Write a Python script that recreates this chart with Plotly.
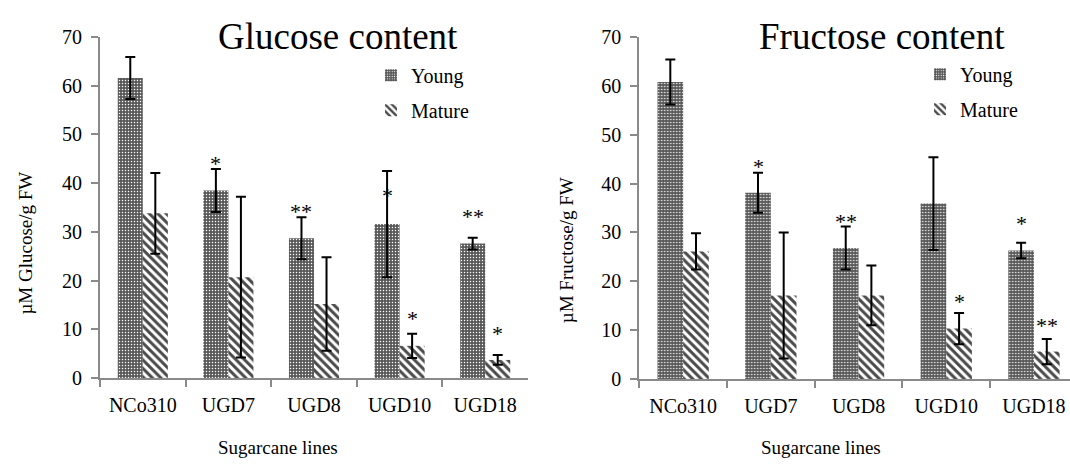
import plotly.graph_objects as go

# Sugarcane lines and measured sugar contents (µM / g FW), mean and SD
lines = ["NCo310", "UGD7", "UGD8", "UGD10", "UGD18"]

glucose_young = [61.6, 38.5, 28.7, 31.6, 27.6]
glucose_young_err = [4.3, 4.4, 4.3, 10.9, 1.2]
glucose_mature = [33.8, 20.7, 15.2, 6.6, 3.7]
glucose_mature_err = [8.3, 16.5, 9.6, 2.5, 1.0]

fructose_young = [60.8, 38.1, 26.8, 35.9, 26.3]
fructose_young_err = [4.6, 4.1, 4.4, 9.5, 1.6]
fructose_mature = [26.1, 17.1, 17.1, 10.3, 5.6]
fructose_mature_err = [3.7, 12.9, 6.1, 3.2, 2.6]

# significance marks (empty string = not significant)
glucose_young_sig = ["", "*", "**", "*", "**"]
glucose_mature_sig = ["", "", "", "*", "*"]
fructose_young_sig = ["", "*", "**", "", "*"]
fructose_mature_sig = ["", "", "", "*", "**"]

y_ticks = [0, 10, 20, 30, 40, 50, 60, 70]

W, H = 1070, 470
FONT = "Liberation Serif"
AXIS_GREY = "#8a8a8a"
BARGAP = 0.415

young_pattern = dict(shape=".", fgcolor="#ffffff", bgcolor="#585858",
                     size=3, solidity=0.2, fillmode="replace")
mature_pattern = dict(shape="\\", fgcolor="#4a4a4a", bgcolor="#ffffff",
                      size=6, solidity=0.5, fillmode="replace")


def px_x(v):
    return v / W


def px_y(v):
    return 1 - v / H


fig = go.Figure()

panels = [
    dict(xa="x", ya="y", young=glucose_young, yerr=glucose_young_err,
         mature=glucose_mature, merr=glucose_mature_err,
         ysig=glucose_young_sig, msig=glucose_mature_sig,
         legend="legend", ylift=[0, 1.6, 1.6, -4.6, 4.7], mlift=[0, 0, 0, 3.5, 4.9]),
    dict(xa="x2", ya="y2", young=fructose_young, yerr=fructose_young_err,
         mature=fructose_mature, merr=fructose_mature_err,
         ysig=fructose_young_sig, msig=fructose_mature_sig,
         legend="legend2", ylift=[0, 1.7, 1.4, 0, 4.4], mlift=[0, 0, 0, 2.8, 3.1]),
]

for p in panels:
    fig.add_trace(go.Bar(
        x=lines, y=p["young"], name="Young", xaxis=p["xa"], yaxis=p["ya"],
        marker=dict(color="#585858", pattern=young_pattern, line=dict(width=0)),
        error_y=dict(type="data", array=p["yerr"], visible=True,
                     color="#000000", thickness=2, width=5),
        legend=p["legend"], legendgroup=p["legend"] + "y",
    ))
    fig.add_trace(go.Bar(
        x=lines, y=p["mature"], name="Mature", xaxis=p["xa"], yaxis=p["ya"],
        marker=dict(color="#ffffff", pattern=mature_pattern, line=dict(width=0)),
        error_y=dict(type="data", array=p["merr"], visible=True,
                     color="#000000", thickness=2, width=5),
        legend=p["legend"], legendgroup=p["legend"] + "m",
    ))

annotations = []
offset = (1 - BARGAP) / 4  # centre of each bar relative to its category
for p in panels:
    for i, name in enumerate(lines):
        if p["ysig"][i]:
            annotations.append(dict(
                x=i - offset, y=p["young"][i] + p["yerr"][i] + p["ylift"][i],
                xref=p["xa"], yref=p["ya"], text=p["ysig"][i], showarrow=False,
                font=dict(family=FONT, size=22, color="#000"),
                yanchor="middle", yshift=-2))
        if p["msig"][i]:
            annotations.append(dict(
                x=i + offset, y=p["mature"][i] + p["merr"][i] + p["mlift"][i],
                xref=p["xa"], yref=p["ya"], text=p["msig"][i], showarrow=False,
                font=dict(family=FONT, size=22, color="#000"),
                yanchor="middle", yshift=-2))

# chart titles and axis titles
for txt, cx, cy, size, angle in [
    ("Glucose content", 338, 27, 37, 0),
    ("Fructose content", 882, 27, 37, 0),
    ("Sugarcane lines", 278, 458, 19, 0),
    ("Sugarcane lines", 821, 458, 19, 0),
    ("µM Glucose/g FW", 26, 244, 19, -90),
    ("µM Fructose/g FW", 566, 251, 19, -90),
]:
    annotations.append(dict(
        x=px_x(cx), y=px_y(cy), xref="paper", yref="paper", text=txt,
        showarrow=False, xanchor="center", yanchor="middle", textangle=angle,
        font=dict(family=FONT, size=size, color="#000")))

axis_common = dict(
    showline=True, linecolor=AXIS_GREY, linewidth=2, ticks="outside",
    tickcolor=AXIS_GREY, tickwidth=2, ticklen=7, showgrid=False, zeroline=False,
    tickfont=dict(family=FONT, size=20, color="#000"),
)

fig.update_layout(
    width=W, height=H, margin=dict(l=0, r=0, t=0, b=0),
    paper_bgcolor="white", plot_bgcolor="white",
    barmode="group", bargap=BARGAP, bargroupgap=0,
    font=dict(family=FONT, color="#000"),
    xaxis=dict(domain=[px_x(100), px_x(528)], anchor="y", type="category",
               tickson="boundaries", range=[-0.5, 4.5], ticklabelstandoff=8,
               **axis_common),
    yaxis=dict(domain=[px_y(385), px_y(27.3)], anchor="x", range=[0, 70],
               tickvals=y_ticks, ticklabelstandoff=5, **axis_common),
    xaxis2=dict(domain=[px_x(639.3), 1.0], anchor="y2", type="category",
                tickson="boundaries", range=[-0.5, -0.5 + (W - 639.3) / 87.7],
                ticklabelstandoff=8, **axis_common),
    yaxis2=dict(domain=[px_y(386), px_y(27.3)], anchor="x2", range=[0, 70],
                tickvals=y_ticks, ticklabelstandoff=5, **axis_common),
    legend=dict(x=px_x(371), y=px_y(47), xanchor="left", yanchor="top",
                bgcolor="rgba(0,0,0,0)", tracegroupgap=6,
                font=dict(family=FONT, size=20, color="#000")),
    legend2=dict(x=px_x(920), y=px_y(46), xanchor="left", yanchor="top",
                 bgcolor="rgba(0,0,0,0)", tracegroupgap=6,
                 font=dict(family=FONT, size=20, color="#000")),
    annotations=annotations,
    showlegend=True,
)

fig.write_html("out.html")
